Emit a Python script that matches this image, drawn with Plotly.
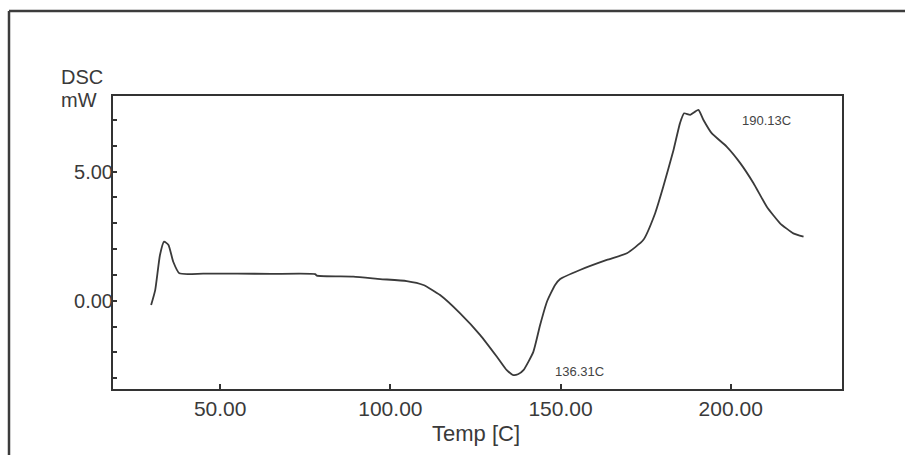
import plotly.graph_objects as go

# ---- data ----
temp_c = [29.7, 30.9, 32.3, 33.5, 34.8, 36.2, 38.0, 45.0, 55.0, 65.0, 77.9, 78.4, 89.1, 97.0,
          104.8, 109.7, 114.6, 120.5, 126.4, 131.3, 134.2, 136.1, 137.5, 139.1, 142.0, 144.0,
          146.0, 148.4, 149.9, 155.7, 163.6, 169.5, 174.3, 177.8, 180.2, 183.2, 185.1, 186.3,
          188.1, 190.5, 192.0, 194.4, 198.8, 202.8, 206.7, 210.6, 214.5, 218.4, 221.4]
dsc_mw = [-0.17, 0.41, 1.77, 2.29, 2.16, 1.51, 1.06, 1.05, 1.05, 1.04, 1.03, 0.97, 0.93, 0.84,
          0.76, 0.61, 0.22, -0.49, -1.33, -2.17, -2.69, -2.88, -2.85, -2.69, -1.98, -0.94,
          -0.04, 0.61, 0.84, 1.19, 1.58, 1.84, 2.35, 3.39, 4.42, 5.84, 6.88, 7.26,
          7.20, 7.39, 7.00, 6.49, 5.97, 5.33, 4.55, 3.64, 3.00, 2.61, 2.48]

x_tickvals = [50, 100, 150, 200]
x_ticktext = ["50.00", "100.00", "150.00", "200.00"]
y_tickvals = [0, 5]
y_ticktext = ["0.00", "5.00"]

peak_labels = ["190.13C", "136.31C"]
peak_label_x = [210.4, 155.7]
peak_label_y = [6.97, -2.73]

# ---- layout geometry (pixels) ----
W, H = 905, 455
L, R, T, B = 113, 842, 96, 389
pw, ph = R - L, B - T


def px(x):
    return (x - L) / pw


def py(y):
    return (B - y) / ph


ink = "#333333"
font = "Liberation Sans, Arial, sans-serif"

fig = go.Figure()
fig.add_trace(go.Scatter(x=temp_c, y=dsc_mw, mode="lines",
                         line=dict(color="#3a3a3a", width=1.8, shape="spline", smoothing=0.5),
                         hoverinfo="skip", showlegend=False))

annotations = []
for t, xx, yy in zip(peak_labels, peak_label_x, peak_label_y):
    annotations.append(dict(x=xx, y=yy, xref="x", yref="y", text=t, showarrow=False,
                            font=dict(family=font, size=13, color="#444444"),
                            xanchor="center", yanchor="middle"))

annotations += [
    dict(x=px(476), y=py(433), xref="paper", yref="paper", text="Temp [C]",
         showarrow=False, font=dict(family=font, size=22, color="#3a3a3a"),
         xanchor="center", yanchor="middle"),
    dict(x=px(59), y=py(77), xref="paper", yref="paper", text="DSC",
         showarrow=False, font=dict(family=font, size=20, color="#3a3a3a"),
         xanchor="left", yanchor="middle"),
    dict(x=px(59), y=py(100), xref="paper", yref="paper", text="mW",
         showarrow=False, font=dict(family=font, size=20, color="#3a3a3a"),
         xanchor="left", yanchor="middle"),
]

frame = dict(color="#3c3c3c", width=2.5)
shapes = [
    dict(type="line", xref="paper", yref="paper", x0=px(9), y0=py(11), x1=px(905), y1=py(11),
         line=frame, layer="above"),
    dict(type="line", xref="paper", yref="paper", x0=px(9), y0=py(11), x1=px(9), y1=py(455),
         line=frame, layer="above"),
]

fig.update_layout(
    width=W, height=H,
    margin=dict(l=L, r=W - R, t=T, b=H - B, pad=0),
    paper_bgcolor="white", plot_bgcolor="white",
    annotations=annotations, shapes=shapes,
    xaxis=dict(range=[18.5, 232.7], tickvals=x_tickvals, ticktext=x_ticktext,
               ticks="inside", ticklen=5, tickwidth=1.5, tickcolor=ink,
               showline=True, mirror=True, linewidth=2, linecolor=ink,
               showgrid=False, zeroline=False, ticklabelstandoff=0,
               tickfont=dict(family=font, size=21, color="#3a3a3a")),
    yaxis=dict(range=[-3.42, 7.93], tickvals=y_tickvals, ticktext=y_ticktext,
               ticks="inside", ticklen=4, tickwidth=1.5, tickcolor=ink,
               minor=dict(dtick=1, tick0=0, ticks="inside", ticklen=4, tickwidth=1.5,
                          tickcolor=ink, showgrid=False),
               showline=True, mirror=True, linewidth=2, linecolor=ink,
               showgrid=False, zeroline=False, ticklabelstandoff=-6,
               tickfont=dict(family=font, size=20, color="#3a3a3a")),
)

fig.write_html("out.html")
